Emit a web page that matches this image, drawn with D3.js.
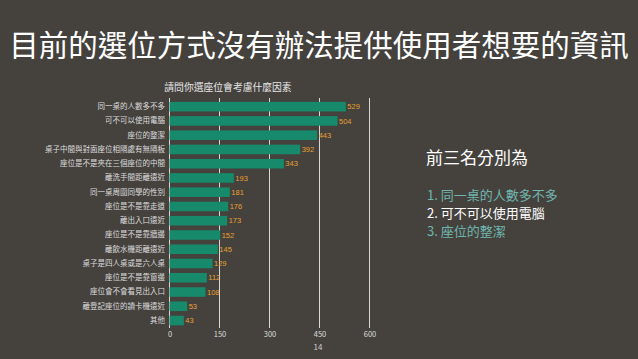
<!DOCTYPE html>
<html><head><meta charset="utf-8">
<script src="https://cdn.jsdelivr.net/npm/d3@7"></script>
<style>
html,body{margin:0;padding:0;background:#45423e;}
svg{display:block;}
</style></head>
<body>
<svg id="c" width="638" height="359"></svg>
<script>
const categories = ["同一桌的人數多不多","可不可以使用電腦","座位的整潔","桌子中間與對面座位相隔處有無隔板","座位是不是夾在三個座位的中間","離洗手間距離遠近","同一桌周圍同學的性別","座位是不是靠走道","離出入口遠近","座位是不是靠牆邊","離飲水機距離遠近","桌子是四人桌或是六人桌","座位是不是靠窗邊","座位會不會看見出入口","離登記座位的讀卡機遠近","其他"];
const values = [529,504,443,392,343,193,181,176,173,152,145,129,112,108,53,43];
const xTicks = [0,150,300,450,600];
const pageTitle = "目前的選位方式沒有辦法提供使用者想要的資訊";
const chartTitle = "請問你選座位會考慮什麼因素";
const sideTitle = "前三名分別為";
const topThree = ["1. 同一桌的人數多不多","2. 可不可以使用電腦","3. 座位的整潔"];
const pageNum = "14";

const font = "'Noto Sans CJK TC','Noto Sans CJK SC',sans-serif";
const svg = d3.select("#c").style("font-family", font);

svg.append("text").attr("x", 319).attr("y", 56).attr("text-anchor","middle")
  .attr("fill","#ffffff").attr("font-size", 29.5).text(pageTitle);

const x = d3.scaleLinear().domain([0,600]).range([169.5,369.5]);
const y = d3.scaleBand().domain(categories).range([99.6,327.6]).paddingInner(0.33).paddingOuter(0.16);

// gridlines
const g = svg.append("g");
g.selectAll("line.grid").data(xTicks).join("line")
  .attr("x1", d=>x(d)).attr("x2", d=>x(d)).attr("y1", 98).attr("y2", 328)
  .attr("stroke","#d8d8d8").attr("stroke-width",1);

// x axis labels
const xAxis = d3.axisBottom(x).tickValues(xTicks).tickSize(0).tickPadding(0);
const ax = svg.append("g").attr("transform","translate(0,332)").call(xAxis);
ax.select(".domain").remove();
ax.selectAll("text").attr("fill","#dddddd").attr("font-size",7.5).attr("font-family",font);

// y axis labels
const yAxis = d3.axisLeft(y).tickSize(0).tickPadding(0);
const ay = svg.append("g").attr("transform","translate(165,0)").call(yAxis);
ay.select(".domain").remove();
ay.selectAll("text").attr("fill","#dcdcdc").attr("font-size",7.5).attr("font-family",font);

// bars
svg.selectAll("rect.bar").data(values).join("rect")
  .attr("x", x(0)).attr("y", (d,i)=>y(categories[i]))
  .attr("width", d=>x(d)-x(0)).attr("height", y.bandwidth())
  .attr("fill","#178a6c");

// value labels
svg.selectAll("text.val").data(values).join("text")
  .attr("x", d=>x(d)+1.5).attr("y", (d,i)=>y(categories[i])+y.bandwidth()/2)
  .attr("dy","0.35em").attr("fill","#e6a030").attr("font-size",7.5)
  .attr("font-family","'Liberation Sans',Arial,sans-serif").text(d=>d);

// chart title
svg.append("text").attr("x", 228).attr("y", 91).attr("text-anchor","middle")
  .attr("fill","#e6e6e6").attr("font-size",9.8).text(chartTitle);

// side text
svg.append("text").attr("x", 426).attr("y", 164).attr("fill","#ffffff")
  .attr("font-size",17).text(sideTitle);
const sideColors = ["#6fb5ad","#ffffff","#6fb5ad"];
svg.selectAll("text.side").data(topThree).join("text")
  .attr("x",427).attr("y",(d,i)=>200+i*18).attr("fill",(d,i)=>sideColors[i])
  .attr("font-size",13).text(d=>d);

// page number
svg.append("text").attr("x",318).attr("y",350).attr("text-anchor","middle")
  .attr("fill","#cccccc").attr("font-size",8).text(pageNum);
</script>
</body></html>
